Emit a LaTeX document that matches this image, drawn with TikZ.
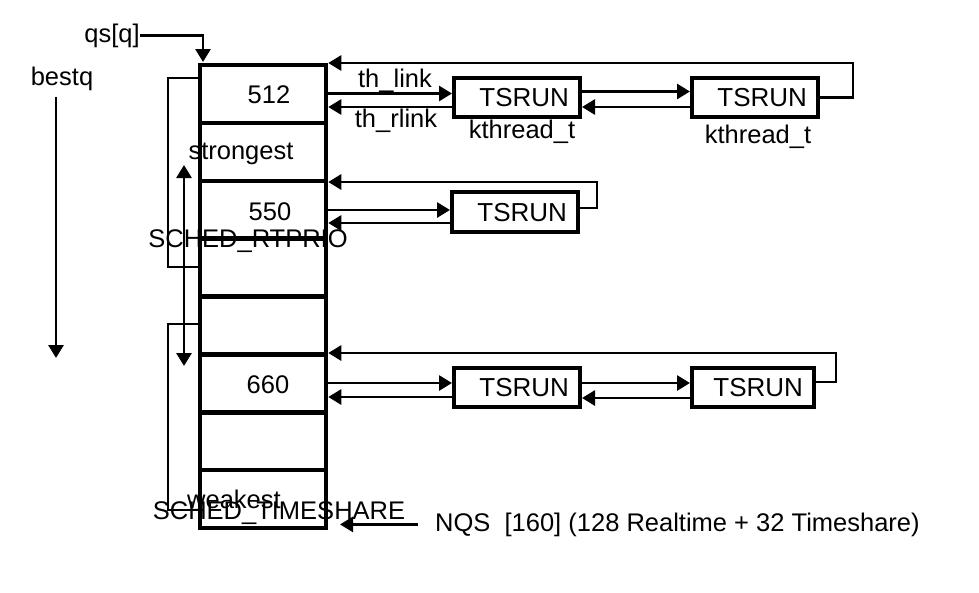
\documentclass[tikz,border=0pt]{standalone}
\usepackage{fontspec}
\setmainfont{Liberation Sans}
\usetikzlibrary{arrows.meta,calc}
\begin{document}
\begin{tikzpicture}[x=1pt,y=-1pt,
  lbl/.style={font=\fontsize{25.5}{25.5}\selectfont, inner sep=0pt, anchor=base},
  cell/.style={draw, line width=4.5pt, minimum width=126pt, minimum height=57.875pt, inner sep=0pt},
  tsbox/.style={draw, line width=4pt, font=\fontsize{26}{26}\selectfont, text height=18.5pt, text depth=0pt,
    minimum height=39pt, inner xsep=11pt, inner ysep=0pt, align=right},
  link/.style={line width=2.8pt, -{Triangle[length=13pt,width=15pt]}},
  plain/.style={line width=2.8pt}
]
\useasboundingbox (0,0) rectangle (979,592);
% column
\foreach \i in {1,...,8}{
  \node[cell] (r\i) at (263,{65+57.875*(\i-0.5)}) {};
}
% labels in column
\node[lbl] (l512) at (269,103) {512};
\node[lbl] (lstrong) at (241,159) {strongest};
\node[lbl] (l550) at (270,220) {550};
\node[lbl] (lrt) at (248,247) {SCHED\_RTPRIO};
\node[lbl] (l660) at (268,393) {660};
\node[lbl] (lweak) at (234,508) {weakest};
\node[lbl] (lts) at (279,519) {SCHED\_TIMESHARE};
% left side
\node[lbl] (qs) at (112,42) {qs[q]};
\coordinate (qstip) at (203,62);
\draw[link] (qs.east) -| (qstip);
\node[lbl] (bestq) at (62,85) {bestq};
\coordinate (bqa) at (56,97);
\coordinate (bqb) at (56,358);
\draw[link] (bqa) -- (bqb);
\coordinate (dbla) at (184,165);
\coordinate (dblb) at (184,366);
\draw[line width=2.8pt, {Triangle[length=13pt,width=15pt]}-{Triangle[length=13pt,width=15pt]}] (dbla) -- (dblb);
\coordinate (br1a) at (168,78);
\coordinate (br1b) at (168,267);
\draw[plain] (br1a -| r1.west) -- (br1a) -- (br1b) -- (br1b -| r1.west);
\coordinate (br2a) at (168,324);
\coordinate (br2b) at (168,510);
\draw[plain] (br2a -| r1.west) -- (br2a) -- (br2b) -- (br2b -| r1.west);
% thread boxes
\node[tsbox, text width=104pt] (b1) at (517,97.5) {TSRUN};
\node[tsbox, text width=104pt] (b2) at (755,97.5) {TSRUN};
\node[tsbox, text width=104pt, minimum height=40pt] (b3) at (515,212) {TSRUN};
\node[tsbox, text width=104pt] (b4) at (517,387.5) {TSRUN};
\node[tsbox, text width=100pt] (b5) at (753,387.5) {TSRUN};
\node[lbl] (k1) at (522,138) {kthread\_t};
\node[lbl] (k2) at (758,143) {kthread\_t};
\node[lbl] (thl) at (395,87) {th\_link};
\node[lbl] (thr) at (396,127) {th\_rlink};
% row 512
\draw[link] ($(r1.east |- b1.west)+(0,-4)$) -- ($(b1.west)+(0,-4)$);
\draw[link] ($(b1.west)+(0,9.5)$) -- ($(r1.east |- b1.west)+(0,9.5)$);
\draw[link] ($(b1.east)+(0,-6)$) -- ($(b2.west)+(0,-6)$);
\draw[link] ($(b2.west)+(0,9.5)$) -- ($(b1.east)+(0,9.5)$);
\coordinate (ret1) at (853,63);
\draw[link] (b2.east) -| (ret1) -- (ret1 -| r1.east);
% row 550
\draw[link] ($(r3.east |- b3.west)+(0,-2)$) -- ($(b3.west)+(0,-2)$);
\draw[link] ($(b3.west)+(0,11)$) -- ($(r3.east |- b3.west)+(0,11)$);
\coordinate (ret3) at (597,182);
\draw[link] ($(b3.east)+(0,-4)$) -| (ret3) -- (ret3 -| r3.east);
% row 660
\draw[link] ($(r6.east |- b4.west)+(0,-4.5)$) -- ($(b4.west)+(0,-4.5)$);
\draw[link] ($(b4.west)+(0,9.5)$) -- ($(r6.east |- b4.west)+(0,9.5)$);
\draw[link] ($(b4.east)+(0,-4.5)$) -- ($(b5.west)+(0,-4.5)$);
\draw[link] ($(b5.west)+(0,10.5)$) -- ($(b4.east)+(0,10.5)$);
\coordinate (ret6) at (836,353);
\draw[link] ($(b5.east)+(0,-5.5)$) -| (ret6) -- (ret6 -| r6.east);
% NQS
\node[lbl, anchor=base west] (nqs) at (435,531) {NQS\ \ [160] (128 Realtime + 32 Timeshare)};
\coordinate (nqstip) at (340,527);
\draw[link] ($(nqs.west)+(-17,0)$) -- (nqstip |- nqs.west);
\end{tikzpicture}
\end{document}
